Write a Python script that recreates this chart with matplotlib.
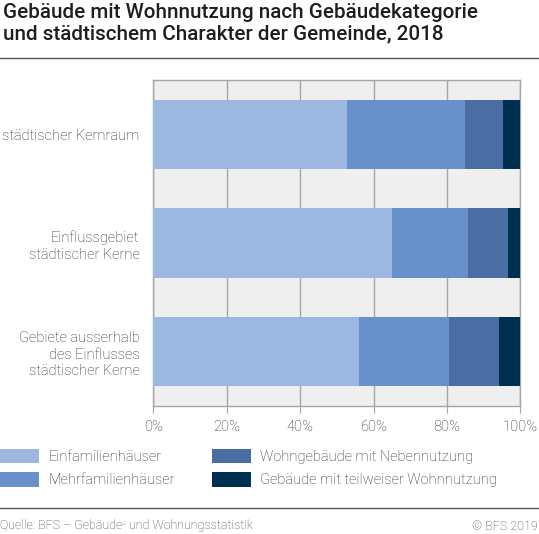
import matplotlib
matplotlib.use("Agg")
import matplotlib.pyplot as plt
import numpy as np
from matplotlib.patches import Patch

plt.rcParams['font.family'] = ['Roboto', 'DejaVu Sans']

categories = ["städtischer Kernraum",
              "Einflussgebiet\nstädtischer Kerne",
              "Gebiete ausserhalb\ndes Einflusses\nstädtischer Kerne"]
series = ["Einfamilienhäuser", "Mehrfamilienhäuser",
          "Wohngebäude mit Nebennutzung", "Gebäude mit teilweiser Wohnnutzung"]
einfam = [52.9, 64.9, 56.0]
mehrfam = [32.0, 20.8, 24.6]
neben = [10.5, 10.8, 13.6]
teilweise = [4.6, 3.5, 5.8]
colors = ["#9cb8e0", "#6891cb", "#4a6da3", "#00304f"]

fig = plt.figure(figsize=(5.39, 5.34), dpi=100)
ax = fig.add_axes([0.2845, 0.2397, 0.6809, 0.6105])
ax.set_facecolor("#efefef")

y = np.arange(len(categories))
left = np.zeros(len(categories))
for vals, col in zip([einfam, mehrfam, neben, teilweise], colors):
    ax.barh(y, vals, left=left, height=0.64, color=col, zorder=3)
    left += np.array(vals)

ax.set_xlim(0, 100)
ax.set_ylim(2.5, -0.5)
ax.set_xticks([0, 20, 40, 60, 80, 100])
ax.set_xticklabels(["0%", "20%", "40%", "60%", "80%", "100%"])
ax.xaxis.grid(True, color="#a6a6a6", linewidth=1, zorder=1)
ax.set_axisbelow(True)
ax.set_yticks(y)
ax.set_yticklabels(categories, ha="right", fontweight="light", linespacing=1.25)
ax.tick_params(axis="y", length=0, pad=10, labelsize=10.5, labelcolor="#2a2a2a")
ax.tick_params(axis="x", length=5, color="#a6a6a6", labelsize=10.5, labelcolor="#2a2a2a", pad=5)
for lab in ax.get_xticklabels():
    lab.set_fontweight("light")
for sp in ax.spines.values():
    sp.set_color("#a6a6a6")
    sp.set_linewidth(1)

fig.text(0.006, 0.995, "Gebäude mit Wohnnutzung nach Gebäudekategorie\nund städtischem Charakter der Gemeinde, 2018",
         ha="left", va="top", fontsize=14.9, color="#1e1e1e", linespacing=1.18, fontweight="medium")
fig.add_artist(plt.Line2D([0, 1], [1 - 58 / 534, 1 - 58 / 534], color="#555555", linewidth=1))
fig.add_artist(plt.Line2D([0, 1], [1 - 508 / 534, 1 - 508 / 534], color="#555555", linewidth=1))

handles = [Patch(facecolor=c, edgecolor="none") for c in colors]
leg_kw = dict(loc="upper left", frameon=False, handlelength=2.66, handleheight=1.15,
              handletextpad=0.65, labelspacing=0.55, borderaxespad=0, borderpad=0,
              prop={"size": 10.5, "weight": "light"})
leg1 = fig.legend(handles[:2], series[:2], bbox_to_anchor=(0.0, 1 - 449 / 534), **leg_kw)
leg2 = fig.legend(handles[2:], series[2:], bbox_to_anchor=(212 / 539, 1 - 449 / 534), **leg_kw)
for leg in (leg1, leg2):
    for t in leg.get_texts():
        t.set_color("#2a2a2a")

fig.text(0.0, 1 - 526 / 534, "Quelle: BFS – Gebäude- und Wohnungsstatistik", ha="left", va="center",
         fontsize=9, color="#444444", fontweight="light")
fig.text(0.998, 1 - 526 / 534, "© BFS 2019", ha="right", va="center",
         fontsize=9, color="#444444", fontweight="light")

fig.savefig("out.png", dpi=100)
